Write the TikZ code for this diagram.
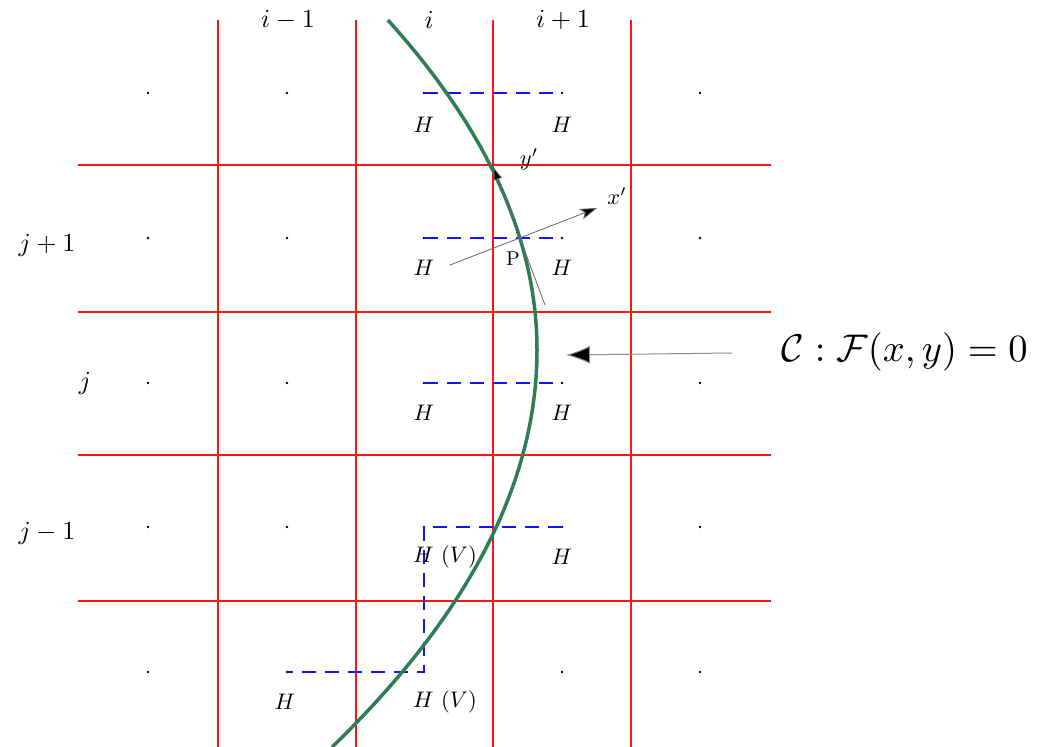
\documentclass[tikz,border=0pt]{standalone}
\usepackage{amsmath}
\usetikzlibrary{arrows.meta}
\definecolor{gridred}{RGB}{255,20,20}
\definecolor{curvegreen}{RGB}{45,125,85}
\definecolor{dashblue}{RGB}{20,20,240}
\tikzset{
  gridline/.style={draw=gridred, line width=1.6pt},
  curveline/.style={draw=curvegreen, line width=3.5pt},
  dashline/.style={draw=dashblue, line width=1.7pt, dash pattern=on 14pt off 9pt},
  celldot/.style={circle, fill=black, inner sep=0pt, minimum size=2.6pt},
  idx/.style={inner sep=0pt, scale=2.6},
  hlab/.style={inner sep=0pt, scale=2.25},
  ptlab/.style={inner sep=0pt, scale=2.0},
  biglab/.style={inner sep=0pt, scale=3.85},
  thinarrow/.style={draw=black!60, line width=0.8pt},
}
\begin{document}
\begin{tikzpicture}[x=1pt,y=-1pt]
\useasboundingbox (0,0) rectangle (1039,747);
% grid
\foreach \gx in {218,356,493,631} \draw[gridline] (\gx,20) -- (\gx,747);
\foreach \gy in {165,312,455,601} \draw[gridline] (78,\gy) -- (771,\gy);
% cell centres
\foreach \cx in {148,287,424,562,700}
  \foreach \cy in {93,238,383,527,672}
    \node[celldot] at (\cx,\cy) {};
% dashed blue paths
\coordinate (a1) at (424,93);  \coordinate (b1) at (562,93);
\coordinate (a2) at (424,238); \coordinate (b2) at (562,238);
\coordinate (a3) at (424,383); \coordinate (b3) at (562,383);
\coordinate (a4) at (424,527); \coordinate (b4) at (562,527);
\coordinate (a5) at (424,672); \coordinate (b5) at (287,672);
\draw[dashline] (a1) -- (b1);
\draw[dashline] (a2) -- (b2);
\draw[dashline] (a3) -- (b3);
\draw[dashline] (b4) -- (a4) -- (a5) -- (b5);
% index labels
\node[idx] (im1) at (288,20) {$i-1$};
\node[idx] (i0) at (429,20) {$i$};
\node[idx] (ip1) at (563,20) {$i+1$};
\node[idx] (jp1) at (47,245) {$j+1$};
\node[idx] (j0) at (85,383) {$j$};
\node[idx] (jm1) at (47,533) {$j-1$};
% H labels
\node[hlab] (h1l) at (424,125) {$H$};
\node[hlab] (h1r) at (562,125) {$H$};
\node[hlab] (h2l) at (424,268) {$H$};
\node[hlab] (h2r) at (562,268) {$H$};
\node[hlab] (h3l) at (424,413) {$H$};
\node[hlab] (h3r) at (562,413) {$H$};
\node[hlab] (h4l) at (445,557) {$H~(V)$};
\node[hlab] (h4r) at (562,557) {$H$};
\node[hlab] (h5l) at (285,702) {$H$};
\node[hlab] (h5r) at (445,702) {$H~(V)$};
% curve: near-parabola x = 537 - k*((y-350)/10)^2
\draw[curveline] plot[domain=20:350, samples=50, smooth, variable=\t] ({537-0.137*((\t-350)/10)^2}, \t)
  -- plot[domain=350:747, samples=60, smooth, variable=\t] ({537-0.130*((\t-350)/10)^2}, \t);
% local axes at P
\coordinate (P) at (520,238);
\coordinate (ybase) at (545,305);
\coordinate (ytip) at (493,166);
\coordinate (xbase) at (450,265);
\coordinate (xtip) at (597,208);
\draw[thinarrow, -{Latex[length=14pt,width=9pt,fill=black]}] (ybase) -- (ytip);
\draw[thinarrow, -{Stealth[length=17pt,width=11pt,inset=4pt,fill=black]}] (xbase) -- (xtip);
\node[ptlab] (plab) at (513,259) {P};
\node[hlab] (ylab) at (529,159) {$y'$};
\node[hlab] (xlab) at (617,196) {$x'$};
% curve label and arrow
\node[biglab, anchor=west] (clab) at (781,352) {$\mathcal{C}:\mathcal{F}(x,y)=0$};
\coordinate (cstart) at (732,353);
\coordinate (ctip) at (566,355);
\draw[draw=black!45, line width=1pt, -{Latex[length=24pt,width=18pt,fill=black]}] (cstart) -- (ctip);
\end{tikzpicture}
\end{document}
